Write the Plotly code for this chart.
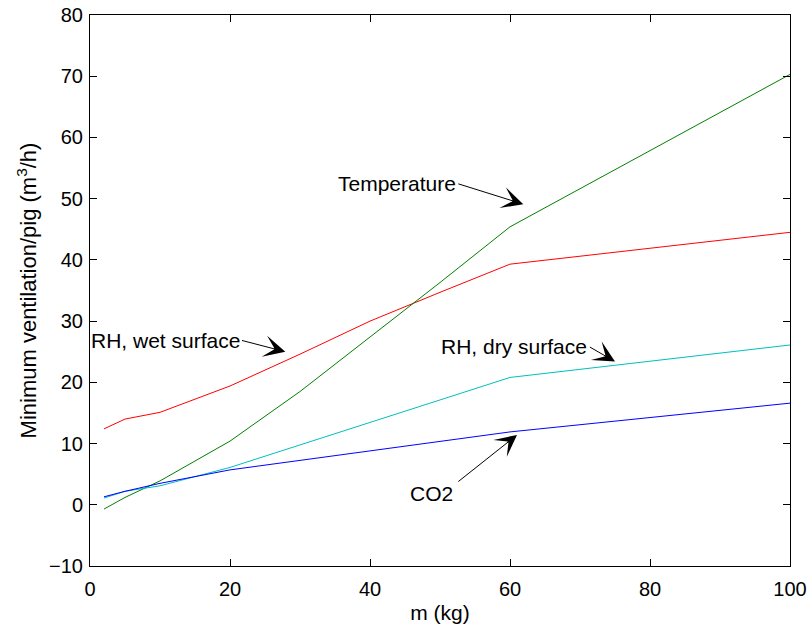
import plotly.graph_objects as go

# Data
mass_temp = [2, 5, 10, 20, 30, 40, 50, 60, 100]
temperature = [-0.7, 1.2, 3.9, 10.4, 18.5, 27.4, 36.3, 45.4, 70.3]

mass_wet = [2, 5, 10, 20, 30, 40, 50, 60, 100]
rh_wet = [12.4, 14.0, 15.1, 19.4, 24.6, 30.0, 34.7, 39.3, 44.5]

mass_dry = [2, 5, 10, 20, 60, 100]
rh_dry = [1.1, 2.2, 3.1, 6.1, 20.8, 26.1]

mass_co2 = [2, 5, 10, 20, 60, 100]
co2 = [1.3, 2.2, 3.5, 5.7, 11.9, 16.6]

x_ticks = [0, 20, 40, 60, 80, 100]
y_ticks = [-10, 0, 10, 20, 30, 40, 50, 60, 70, 80]

FONT = "Liberation Sans, Arial, sans-serif"

fig = go.Figure()
fig.add_trace(go.Scatter(x=mass_wet, y=rh_wet, mode="lines",
                         line=dict(color="#ff0000", width=1), name="RH, wet surface"))
fig.add_trace(go.Scatter(x=mass_temp, y=temperature, mode="lines",
                         line=dict(color="#008000", width=1), name="Temperature"))
fig.add_trace(go.Scatter(x=mass_dry, y=rh_dry, mode="lines",
                         line=dict(color="#00bfbf", width=1), name="RH, dry surface"))
fig.add_trace(go.Scatter(x=mass_co2, y=co2, mode="lines",
                         line=dict(color="#0000ff", width=1), name="CO2"))

# label texts and arrows (tail -> tip) in data coordinates
labels = [
    dict(text="Temperature", tx=52.4, ty=52.5, anchor="right", tail=(52.4, 52.5), tip=(61.9, 49.1)),
    dict(text="RH, wet surface", tx=21.5, ty=26.9, anchor="right", tail=(21.5, 26.9), tip=(27.9, 25.0)),
    dict(text="RH, dry surface", tx=71.2, ty=25.9, anchor="right", tail=(71.2, 25.9), tip=(75.0, 23.4)),
    dict(text="CO2", tx=48.8, ty=1.8, anchor="center", tail=(52.4, 3.6), tip=(61.0, 11.4)),
]
for lb in labels:
    fig.add_annotation(x=lb["tx"], y=lb["ty"], text=lb["text"], showarrow=False,
                       xanchor=lb["anchor"], yanchor="middle",
                       font=dict(family=FONT, size=21, color="black"), borderpad=0)
    fig.add_annotation(x=lb["tip"][0], y=lb["tip"][1], ax=lb["tail"][0], ay=lb["tail"][1],
                       axref="x", ayref="y", text="", showarrow=True,
                       arrowhead=3, arrowsize=3.6, arrowwidth=1, arrowcolor="black",
                       standoff=0, startstandoff=0)

axis_common = dict(showline=True, linecolor="black", linewidth=1, mirror="ticks",
                   ticks="inside", ticklen=7, tickcolor="black", tickwidth=1,
                   showgrid=False, zeroline=False, automargin=False,
                   tickfont=dict(family=FONT, size=20, color="black"))

fig.update_xaxes(range=[0, 100], tickvals=x_ticks, ticklabelstandoff=5,
                 title=dict(text="m (kg)", font=dict(family=FONT, size=21, color="black"), standoff=6),
                 **axis_common)
fig.update_yaxes(range=[-10, 80], tickvals=y_ticks, ticklabelstandoff=2,
                 title=dict(text="Minimum ventilation/pig (m<sup>3</sup>/h)",
                            font=dict(family=FONT, size=22, color="black"), standoff=6),
                 **axis_common)

fig.update_layout(width=812, height=632, showlegend=False,
                  margin=dict(l=90, r=22, t=15, b=66),
                  plot_bgcolor="white", paper_bgcolor="white",
                  font=dict(family=FONT, size=20, color="black"))

fig.write_html("out.html")
